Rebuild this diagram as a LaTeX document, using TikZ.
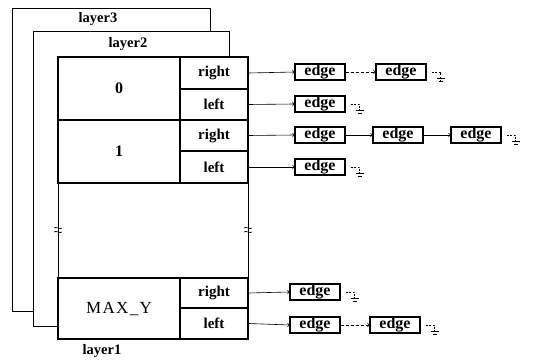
\documentclass[tikz,border=0pt]{standalone}
\usepackage{fontspec}
\setmainfont{Liberation Serif}
\newfontfamily\maxfont[LetterSpace=8]{Liberation Serif}
\begin{document}
\begin{tikzpicture}[x=1pt,y=-1pt,
  layerbox/.style={draw, line width=1pt, fill=white, inner sep=0pt},
  layerlabel/.style={font=\fontsize{14.5}{16}\selectfont\bfseries, inner sep=0pt},
  cellbox/.style={draw, line width=1.1pt, inner sep=0pt, font=\fontsize{15}{17}\selectfont\bfseries},
  edgebox/.style={draw, line width=1.1pt, minimum width=50pt, minimum height=16pt, inner sep=0pt, font=\fontsize{16}{18}\selectfont\bfseries},
  ptr/.style={->, line width=0.6pt},
  nullline/.style={line width=0.6pt}
]
\useasboundingbox (0,0) rectangle (533,361);

% layers
\node[layerbox, minimum width=198pt, minimum height=302pt] (L3) at (111,160) {};
\node[layerlabel] (L3t) at (98,19) {layer3};
\node[layerbox, minimum width=196pt, minimum height=294pt] (L2) at (131,179) {};
\node[layerlabel] (L2t) at (128,44) {layer2};
\node[layerbox, minimum width=190pt, minimum height=282pt] (L1) at (153,198) {};
\node[layerlabel] (L1t) at (102,351) {layer1};

% cells, row 0
\node[cellbox, minimum width=122pt, minimum height=63pt, font=\fontsize{16}{18}\selectfont\bfseries] (c0) at (119,88.5) {0};
\node[cellbox, minimum width=68pt, minimum height=32pt] (r0) at (214,73) {right};
\node[cellbox, minimum width=68pt, minimum height=31pt] (l0) at (214,104.5) {left};
% row 1
\node[cellbox, minimum width=122pt, minimum height=63pt, font=\fontsize{16}{18}\selectfont\bfseries] (c1) at (119,151.5) {1};
\node[cellbox, minimum width=68pt, minimum height=31pt] (r1) at (214,135.5) {right};
\node[cellbox, minimum width=68pt, minimum height=32pt] (l1) at (214,167) {left};
% row MAX_Y
\node[cellbox, minimum width=122pt, minimum height=61pt, font=\fontsize{17}{19}\maxfont] (cm) at (119,308.5) {MAX\_Y};
\node[cellbox, minimum width=68pt, minimum height=30pt] (rm) at (214,293) {right};
\node[cellbox, minimum width=68pt, minimum height=31pt] (lm) at (214,323.5) {left};

% break marks
\foreach \bx/\nm in {58/bl, 248/br}{
  \coordinate (\nm) at (\bx,230);
  \draw[line width=0.7pt] (\nm) ++(-4,-2) .. controls +(2,-2) and +(-2,2) .. ++(8,0);
  \draw[line width=0.7pt] (\nm) ++(-4,2) .. controls +(2,-2) and +(-2,2) .. ++(8,0);
}

% edge boxes
\node[edgebox] (e01) at (320,72) {edge};
\node[edgebox] (e02) at (401,72) {edge};
\node[edgebox] (e03) at (320,104) {edge};
\node[edgebox] (e11) at (320,135) {edge};
\node[edgebox] (e12) at (398,135) {edge};
\node[edgebox] (e13) at (476,135) {edge};
\node[edgebox] (e14) at (320,167) {edge};
\node[edgebox] (em1) at (315,292) {edge};
\node[edgebox] (em2) at (315,325) {edge};
\node[edgebox] (em3) at (395,325) {edge};

% pointers
\draw[ptr] (r0.east) -- (e01.west);
\draw[ptr, dashed, dash pattern=on 3pt off 2pt] (e01.east) -- (e02.west);
\draw[ptr] (l0.east) -- (e03.west);
\draw[ptr] (r1.east) -- (e11.west);
\draw[ptr] (e11.east) -- (e12.west);
\draw[ptr] (e12.east) -- (e13.west);
\draw[ptr] (l1.east) -- (e14.west);
\draw[ptr] (rm.east) -- (em1.west);
\draw[ptr] (lm.east) -- (em2.west);
\draw[ptr, dashed, dash pattern=on 3pt off 2pt] (em2.east) -- (em3.west);

% null terminators
\foreach \e in {e02, e03, e13, e14, em1, em3}{
  \coordinate (\e n) at ([xshift=14pt]\e.east);
  \draw[nullline, dashed, dash pattern=on 2pt off 1.5pt] ([xshift=5pt]\e.east) -- (\e n) -- ++(0,10);
  \draw[nullline] ([xshift=-4pt,yshift=-6pt]\e n) -- ++(8,0);
  \draw[nullline] ([xshift=-2pt,yshift=-9pt]\e n) -- ++(4,0);
}
\end{tikzpicture}
\end{document}
